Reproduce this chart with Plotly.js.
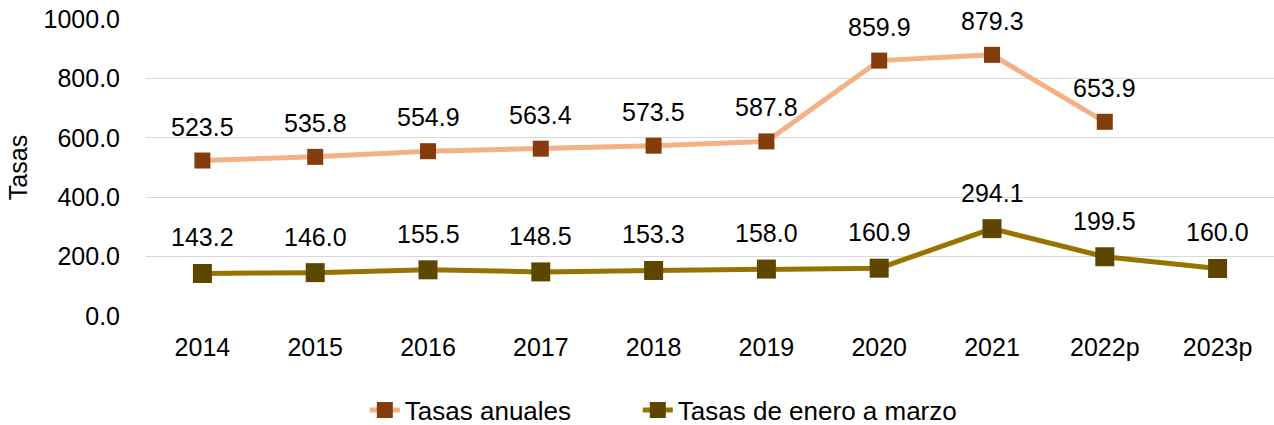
<!DOCTYPE html>
<html><head><meta charset="utf-8">
<script src="https://cdn.plot.ly/plotly-3.0.1.min.js"></script>
<style>body{margin:0;background:#fff}#c{width:1274px;height:425px}</style>
</head><body><div id="c"></div>
<script>
const categories = ["2014","2015","2016","2017","2018","2019","2020","2021","2022p","2023p"];
const anuales = [523.5,535.8,554.9,563.4,573.5,587.8,859.9,879.3,653.9,null];
const eneroMarzo = [143.2,146.0,155.5,148.5,153.3,158.0,160.9,294.1,199.5,160.0];
const yTicks = [0,200,400,600,800,1000];

const FONT = "Liberation Sans, Arial, sans-serif";
const FS = 25;
const traces = [
  {x:categories, y:anuales, name:"Tasas anuales", type:"scatter", mode:"lines+markers", legend:"legend",
   line:{color:"#F4B183", width:5}, marker:{symbol:"square", size:16, color:"#843C0C"}},
  {x:categories, y:eneroMarzo, name:"Tasas de enero a marzo", type:"scatter", mode:"lines+markers", legend:"legend2",
   line:{color:"#997300", width:5}, marker:{symbol:"square", size:19, color:"#5C4600"}}
];
const annotations = [];
function addLabels(vals, shift){
  vals.forEach((v,i)=>{ if(v!==null) annotations.push({x:i, y:v, xref:"x", yref:"y", text:v.toFixed(1),
    showarrow:false, yshift:shift, yanchor:"middle", font:{family:FONT,size:FS,color:"#000"}}); });
}
addLabels(anuales, 34);
addLabels(eneroMarzo, 36);

const legY = -0.317;
const layout = {
  width:1274, height:425, paper_bgcolor:"#fff", plot_bgcolor:"#fff",
  margin:{l:146, r:0, t:19, b:109, autoexpand:false},
  font:{family:FONT, size:FS, color:"#000"},
  showlegend:true,
  legend:{orientation:"h", x:0.194, xanchor:"left", y:legY, yanchor:"middle", bgcolor:"rgba(0,0,0,0)", font:{family:FONT, size:26}},
  legend2:{orientation:"h", x:0.436, xanchor:"left", y:legY, yanchor:"middle", bgcolor:"rgba(0,0,0,0)", font:{family:FONT, size:26}},
  xaxis:{type:"category", range:[-0.5,9.5], autorange:false, showgrid:false, zeroline:false, showline:false,
    ticks:"outside", ticklen:9, tickcolor:"rgba(0,0,0,0)", tickfont:{size:FS}},
  yaxis:{range:[0,1000], autorange:false, tickvals:yTicks, ticktext:yTicks.map(v=>v.toFixed(1)),
    showgrid:true, gridcolor:"#D9D9D9", gridwidth:1, zeroline:false, showline:false,
    ticks:"outside", ticklen:20, tickcolor:"rgba(0,0,0,0)", tickfont:{size:FS},
    title:{text:"Tasas", font:{size:FS}, standoff:8}},
  annotations:annotations
};
Plotly.newPlot("c", traces, layout, {displayModeBar:false, staticPlot:true});
</script></body></html>
